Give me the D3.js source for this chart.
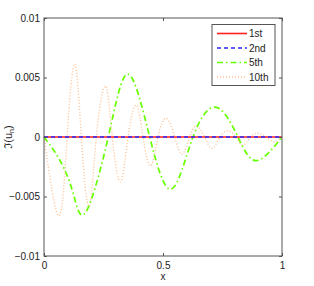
<!DOCTYPE html>
<html>
<head>
<meta charset="utf-8">
<script src="https://cdn.jsdelivr.net/npm/d3@7"></script>
<style>
  body { margin: 0; background: #fff; }
  text { font-family: "Liberation Sans", Arial, sans-serif; }
</style>
</head>
<body>
<div id="chart"></div>
<script>
// Chart size and plot box
const width = 314;
const height = 286;
const margin = {left: 44, right: 32, top: 18, bottom: 30};

// Series names, in legend order
const seriesNames = ["1st", "2nd", "5th", "10th"];

// 1st and 2nd modes stay on zero
const x1 = [0, 1];
const y1 = [0, 0];
const x2 = [0, 1];
const y2 = [0, 0];

// 5th mode
const x5 = [0, 0.066, 0.122, 0.175, 0.27, 0.353, 0.444, 0.535, 0.626, 0.724, 0.815, 0.892, 1];
const y5 = [0, -0.00193, -0.00469, -0.00634, 0, 0.00528, 0, -0.00438, 0, 0.00249, 0, -0.00199, 0];

// 10th mode
const x10 = [0, 0.063, 0.097, 0.129, 0.157, 0.189, 0.22, 0.258, 0.287, 0.321, 0.353, 0.388, 0.416,
             0.448, 0.479, 0.514, 0.549, 0.58, 0.612, 0.64, 0.675, 0.706, 0.74, 0.773, 0.805,
             0.836, 0.868, 0.899, 0.934, 0.969, 1];
const y10 = [0, -0.00662, 0, 0.00612, 0, -0.00584, 0, 0.00428, 0, -0.00377, 0, 0.00268, 0,
             -0.00243, 0, 0.00157, 0, -0.00143, 0, 0.00092, 0, -0.00095, 0, 0.00053, 0,
             -0.00067, 0, 0.00031, 0, -0.0004, 0];

// Tick values
const xTicks = [0, 0.5, 1];
const yTicks = [-0.01, -0.005, 0, 0.005, 0.01];

const svg = d3.select("#chart")
  .append("svg")
  .attr("width", width)
  .attr("height", height);

const xScale = d3.scaleLinear()
  .domain([0, 1])
  .range([margin.left, width - margin.right]);

const yScale = d3.scaleLinear()
  .domain([-0.01, 0.01])
  .range([height - margin.bottom, margin.top]);

const fmt = d => d === 0 ? "0" : (d < 0 ? "\u2212" : "") + Math.abs(d);

// series styles
const styles = [
  {color: "#ff1f1f", dash: null, w: 1.6},
  {color: "#2a2aff", dash: "4,3", w: 1.6},
  {color: "#66ff00", dash: "6,3,1.5,3", w: 1.7},
  {color: "#ffbf8f", dash: "1,2", w: 1.4}
];

const series = [
  x1.map((x, i) => [x, y1[i]]),
  x2.map((x, i) => [x, y2[i]]),
  x5.map((x, i) => [x, y5[i]]),
  x10.map((x, i) => [x, y10[i]])
];

const line = d3.line()
  .x(d => xScale(d[0]))
  .y(d => yScale(d[1]))
  .curve(d3.curveNatural);

// draw order: 10th, 5th, then 1st and 2nd on top
[3, 2, 0, 1].forEach(k => {
  svg.append("path")
    .datum(series[k])
    .attr("fill", "none")
    .attr("stroke", styles[k].color)
    .attr("stroke-width", styles[k].w)
    .attr("stroke-dasharray", styles[k].dash)
    .attr("d", line);
});

// Axes, matlab style with ticks inside on all sides
const axisColor = "#555";
const tl = 3;
const bottom = height - margin.bottom;
const right = width - margin.right;

svg.append("rect")
  .attr("x", margin.left)
  .attr("y", margin.top)
  .attr("width", right - margin.left)
  .attr("height", bottom - margin.top)
  .attr("fill", "none")
  .attr("stroke", axisColor)
  .attr("stroke-width", 1);

const axB = svg.append("g")
  .attr("transform", `translate(0,${bottom})`)
  .call(d3.axisBottom(xScale).tickValues(xTicks).tickFormat(fmt).tickSize(-tl).tickPadding(6));
const axT = svg.append("g")
  .attr("transform", `translate(0,${margin.top})`)
  .call(d3.axisTop(xScale).tickValues(xTicks).tickFormat("").tickSize(-tl));
const axL = svg.append("g")
  .attr("transform", `translate(${margin.left},0)`)
  .call(d3.axisLeft(yScale).tickValues(yTicks).tickFormat(fmt).tickSize(-tl).tickPadding(4));
const axR = svg.append("g")
  .attr("transform", `translate(${right},0)`)
  .call(d3.axisRight(yScale).tickValues(yTicks).tickFormat("").tickSize(-tl));

[axB, axT, axL, axR].forEach(g => {
  g.select(".domain").remove();
  g.selectAll("line").attr("stroke", axisColor);
  g.selectAll("text").attr("fill", "#222").attr("font-size", "10px")
    .style("font-family", "'Liberation Sans', Arial, sans-serif");
});

// Axis labels
svg.append("text")
  .attr("x", xScale(0.5))
  .attr("y", 280)
  .attr("text-anchor", "middle")
  .attr("font-size", "10px")
  .attr("fill", "#222")
  .text("x");

const yl = svg.append("text")
  .attr("transform", `translate(12,${yScale(0)}) rotate(-90)`)
  .attr("text-anchor", "middle")
  .attr("font-size", "11px")
  .attr("fill", "#222");
yl.append("tspan").text("\u2111(u");
yl.append("tspan").attr("font-size", "7px").attr("dy", 2).text("n");
yl.append("tspan").attr("dy", -2).text(")");

// Legend
const lg = svg.append("g");
lg.append("rect")
  .attr("x", 212)
  .attr("y", 24.5)
  .attr("width", 63)
  .attr("height", 61)
  .attr("fill", "#fff")
  .attr("stroke", axisColor)
  .attr("stroke-width", 1);

seriesNames.forEach((name, i) => {
  const yy = 33.5 + i * 14.5;
  lg.append("line")
    .attr("x1", 217).attr("x2", 247)
    .attr("y1", yy).attr("y2", yy)
    .attr("stroke", styles[i].color)
    .attr("stroke-width", styles[i].w)
    .attr("stroke-dasharray", styles[i].dash);
  lg.append("text")
    .attr("x", 249)
    .attr("y", yy + 3.5)
    .attr("font-size", "10px")
    .attr("fill", "#222")
    .text(name);
});
</script>
</body>
</html>
